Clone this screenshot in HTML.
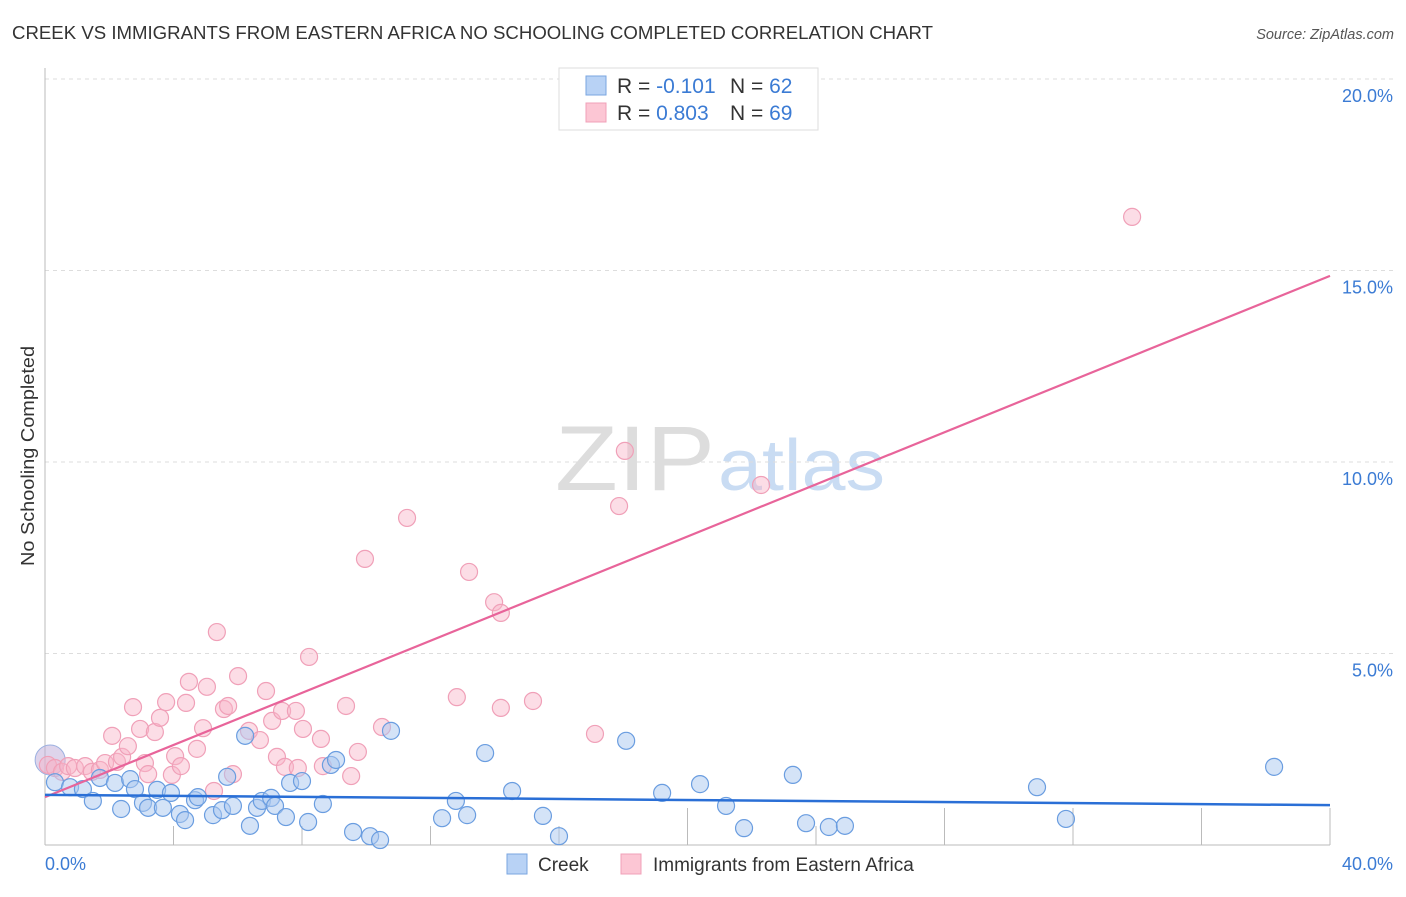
<!DOCTYPE html>
<html><head><meta charset="utf-8"><style>
body{margin:0;background:#fff;font-family:"Liberation Sans",sans-serif;}
svg text{font-family:"Liberation Sans",sans-serif;}
</style></head><body>
<svg id="chart" width="1406" height="892" viewBox="0 0 1406 892">
<text x="12" y="39" font-size="18" fill="#333" textLength="921" lengthAdjust="spacingAndGlyphs">CREEK VS IMMIGRANTS FROM EASTERN AFRICA NO SCHOOLING COMPLETED CORRELATION CHART</text>
<text x="1394" y="39" font-size="14.5" fill="#555" font-style="italic" text-anchor="end">Source: ZipAtlas.com</text>
<text transform="translate(34,456) rotate(-90)" font-size="18" fill="#333" text-anchor="middle" textLength="220" lengthAdjust="spacingAndGlyphs">No Schooling Completed</text>
<g>
<text x="555" y="490" font-size="92" fill="#ddd" font-family="Liberation Serif" textLength="160" lengthAdjust="spacingAndGlyphs">ZIP</text>
<text x="718" y="490" font-size="72" fill="#c9dcf3" textLength="167" lengthAdjust="spacingAndGlyphs">atlas</text>
</g>
<g id="grid"></g>
<g id="axes"></g>
<g id="pts"></g>
<g id="lines"></g>
<g>
<rect x="559" y="68" width="259" height="62" fill="#fff" stroke="#ddd"/>
<rect x="586" y="76" width="20" height="19" fill="#b8d2f5" stroke="#7aa6e0"/>
<rect x="586" y="103" width="20" height="19" fill="#fcc6d4" stroke="#f0a0b8"/>
<text x="617" y="93" font-size="21" fill="#333">R = <tspan fill="#3b7bd4">-0.101</tspan></text>
<text x="730" y="93" font-size="21" fill="#333">N = <tspan fill="#3b7bd4">62</tspan></text>
<text x="617" y="120" font-size="21" fill="#333">R = <tspan fill="#3b7bd4"> 0.803</tspan></text>
<text x="730" y="120" font-size="21" fill="#333">N = <tspan fill="#3b7bd4">69</tspan></text>
</g>
<g>
<rect x="507" y="854" width="20" height="20" fill="#b8d2f5" stroke="#7aa6e0"/>
<text x="538" y="871" font-size="19" fill="#333">Creek</text>
<rect x="621" y="854" width="20" height="20" fill="#fcc6d4" stroke="#f0a0b8"/>
<text x="653" y="871" font-size="19" fill="#333">Immigrants from Eastern Africa</text>
</g>
</svg>
<script>
const yTicks=[5,10,15,20];
const yTickLabels=["5.0%","10.0%","15.0%","20.0%"];
const xTicks=[4,8,12,16,20,24,28,32,36,40];
const creekX=[0.31,0.78,1.18,1.49,1.71,2.18,2.37,2.65,2.80,3.05,3.21,3.49,3.67,3.92,4.20,4.36,4.67,4.76,5.23,5.51,5.67,5.85,6.23,6.38,6.60,6.75,7.04,7.16,7.50,7.63,8.00,8.19,8.65,8.90,9.06,9.59,10.12,10.43,10.77,12.36,12.79,13.14,13.70,14.54,15.50,16.00,18.09,19.21,20.39,21.20,21.76,23.28,23.69,24.40,24.90,30.88,31.78,38.26];
const creekY=[1.64,1.51,1.46,1.15,1.75,1.62,0.94,1.72,1.46,1.10,0.97,1.44,0.97,1.36,0.81,0.65,1.17,1.25,0.78,0.91,1.78,1.02,2.85,0.50,0.97,1.15,1.23,1.02,0.73,1.62,1.67,0.60,1.07,2.09,2.22,0.34,0.23,0.13,2.98,0.70,1.15,0.78,2.40,1.41,0.76,0.23,2.72,1.36,1.59,1.02,0.44,1.83,0.57,0.47,0.50,1.51,0.68,2.04];
const immX=[0.09,0.31,0.53,0.72,0.93,1.25,1.46,1.71,1.87,2.09,2.24,2.40,2.58,2.74,2.96,3.11,3.21,3.42,3.58,3.77,3.95,4.05,4.23,4.39,4.48,4.73,4.92,5.04,5.26,5.35,5.57,5.70,5.85,6.01,6.35,6.69,6.88,7.07,7.22,7.38,7.47,7.81,7.87,8.03,8.22,8.59,8.65,9.37,9.53,9.74,9.96,10.49,11.27,12.82,13.20,13.98,14.19,14.19,15.19,17.12,17.87,18.05,22.29,33.84];
const immY=[2.09,2.01,1.91,2.06,2.01,2.06,1.91,1.96,2.14,2.85,2.17,2.30,2.58,3.60,3.03,2.14,1.85,2.95,3.32,3.73,1.83,2.32,2.06,3.71,4.26,2.51,3.05,4.13,1.41,5.56,3.55,3.63,1.85,4.41,2.98,2.74,4.02,3.24,2.30,3.50,2.04,3.50,2.01,3.03,4.91,2.77,2.06,3.63,1.80,2.43,7.47,3.08,8.54,3.86,7.13,6.34,6.06,3.58,3.76,2.90,8.85,10.29,9.40,16.40];
const trendX=[0,40];
const creekTrend=[1.31,1.04];
const immTrend=[1.25,14.86];
const NS='http://www.w3.org/2000/svg';
const X=v=>45+v/40*1285, Y=v=>845-v*38.3;
function mk(tag,attrs,parent){const e=document.createElementNS(NS,tag);for(const k in attrs)e.setAttribute(k,attrs[k]);document.getElementById(parent).appendChild(e);return e;}
yTicks.forEach((t,i)=>{
 const g=mk('line',{x1:45,x2:1395,y1:Y(t),y2:Y(t),stroke:'#ddd','stroke-dasharray':'4,4'},'grid');
 
 
 const l=mk('text',{x:1393,y:Y(t)+23,'font-size':18,fill:'#3b7bd4','text-anchor':'end'},'grid');
 l.textContent=yTickLabels[i];
 
 
});
const ax=mk('line',{x1:45,x2:45,y1:68,y2:845,stroke:'#bbb'},'axes');


const bx=mk('line',{x1:45,x2:1330,y1:845,y2:845,stroke:'#bbb'},'axes');


xTicks.forEach(t=>{
 const tk=mk('line',{x1:X(t),x2:X(t),y1:t>=20&&t!==24?808:826,y2:845,stroke:'#bbb'},'axes');
 
 
});
const x0=mk('text',{x:45,y:870,'font-size':18,fill:'#3b7bd4'},'axes');x0.textContent='0.0%';


const x1=mk('text',{x:1393,y:870,'font-size':18,fill:'#3b7bd4','text-anchor':'end'},'axes');x1.textContent='40.0%';


const big=mk('circle',{cx:X(0.16),cy:Y(2.22),r:15,fill:'rgba(190,170,215,0.5)',stroke:'#9bb0e0'},'pts');


immX.forEach((v,i)=>{
 const c=mk('circle',{cx:X(v),cy:Y(immY[i]),r:8.5,fill:'rgba(248,180,200,0.45)',stroke:'#f0a0b8','stroke-width':1.2},'pts');
 
 
});
creekX.forEach((v,i)=>{
 const c=mk('circle',{cx:X(v),cy:Y(creekY[i]),r:8.5,fill:'rgba(170,200,240,0.5)',stroke:'#6a9de0','stroke-width':1.2},'pts');
 
 
});
const l1=mk('line',{x1:X(trendX[0]),y1:Y(immTrend[0]),x2:X(trendX[1]),y2:Y(immTrend[1]),stroke:'#e8649a','stroke-width':2.2},'lines');


const l2=mk('line',{x1:X(trendX[0]),y1:Y(creekTrend[0]),x2:X(trendX[1]),y2:Y(creekTrend[1]),stroke:'#2a6fd6','stroke-width':2.5},'lines');


</script>
</body></html>
